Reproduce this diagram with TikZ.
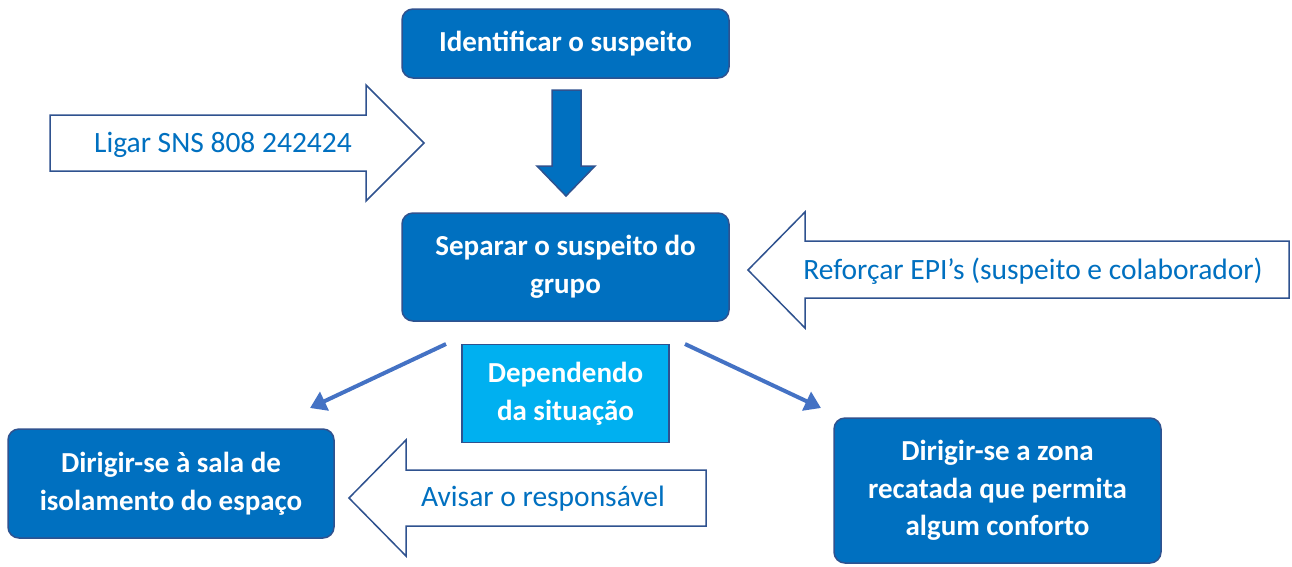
\documentclass[tikz,border=0pt]{standalone}
\usepackage{fontspec}
\setmainfont{Carlito}
\usetikzlibrary{arrows.meta}
\definecolor{dblue}{HTML}{0070C0}
\definecolor{edgeblue}{HTML}{2F528F}
\definecolor{lblue}{HTML}{00B0F0}
\definecolor{connblue}{HTML}{4472C4}
\begin{document}
\begin{tikzpicture}[x=1pt,y=-1pt,
  box/.style={draw=edgeblue, line width=1.5pt, fill=dblue, rounded corners=11pt,
    text=white, font=\fontsize{29}{37.5}\selectfont\bfseries, align=center, inner sep=0pt},
  lbox/.style={draw=edgeblue, line width=1.5pt, fill=lblue,
    text=white, font=\fontsize{29}{37.5}\selectfont\bfseries, align=center, inner sep=0pt},
  blockarrow/.style={draw=edgeblue, line width=1.5pt, fill=white, line join=miter},
  downarrow/.style={draw=edgeblue, line width=1.5pt, fill=dblue, line join=miter},
  arrowtext/.style={text=dblue, font=\fontsize{29.5}{36}\selectfont, inner sep=0pt},
  conn/.style={draw=connblue, line width=4pt, -{Triangle[length=16pt,width=20pt]}}]
\useasboundingbox (0,0) rectangle (1292,566);

% main boxes
\node[box, minimum width=327pt, minimum height=69pt] (ident) at (565.5,43.5) {Identificar o suspeito};
\node[box, minimum width=327pt, minimum height=108pt] (sep) at (565.5,267) {Separar o suspeito do\\grupo};
\node[lbox, minimum width=207pt, minimum height=98pt] (dep) at (565.5,393.5) {Dependendo\\da situação};
\node[box, minimum width=326pt, minimum height=109pt] (sala) at (171,483.5) {Dirigir-se à sala de\\isolamento do espaço};
\node[box, minimum width=327pt, minimum height=145pt] (zona) at (997.5,490.5) {Dirigir-se a zona\\recatada que permita\\algum conforto};

% down block arrow
\draw[downarrow] (552,90) -- (581,90) -- (581,166) -- (595,166) -- (566,196)
  -- (537,166) -- (552,166) -- cycle;

% Ligar SNS arrow (pointing right)
\draw[blockarrow] (50,115) -- (366,115) -- (366,85) -- (424,143) -- (366,201)
  -- (366,171) -- (50,171) -- cycle;
\node[arrowtext] (ligar) at (223,145) {Ligar SNS 808 242424};

% Reforcar arrow (pointing left)
\draw[blockarrow] (1289,241) -- (805,241) -- (805,212) -- (748,270) -- (805,328)
  -- (805,298) -- (1289,298) -- cycle;
\node[arrowtext] (ref) at (1033,271) {Reforçar EPI’s (suspeito e colaborador)};

% Avisar arrow (pointing left)
\draw[blockarrow] (706,470) -- (406,470) -- (406,440) -- (349,498) -- (406,556)
  -- (406,526) -- (706,526) -- cycle;
\node[arrowtext] (avisar) at (543,499) {Avisar o responsável};

% connectors
\coordinate (lstart) at (446,344);
\coordinate (lend) at (310,408);
\coordinate (rstart) at (685,344);
\coordinate (rend) at (821,408);
\draw[conn] (lstart) -- (lend);
\draw[conn] (rstart) -- (rend);
\end{tikzpicture}
\end{document}
